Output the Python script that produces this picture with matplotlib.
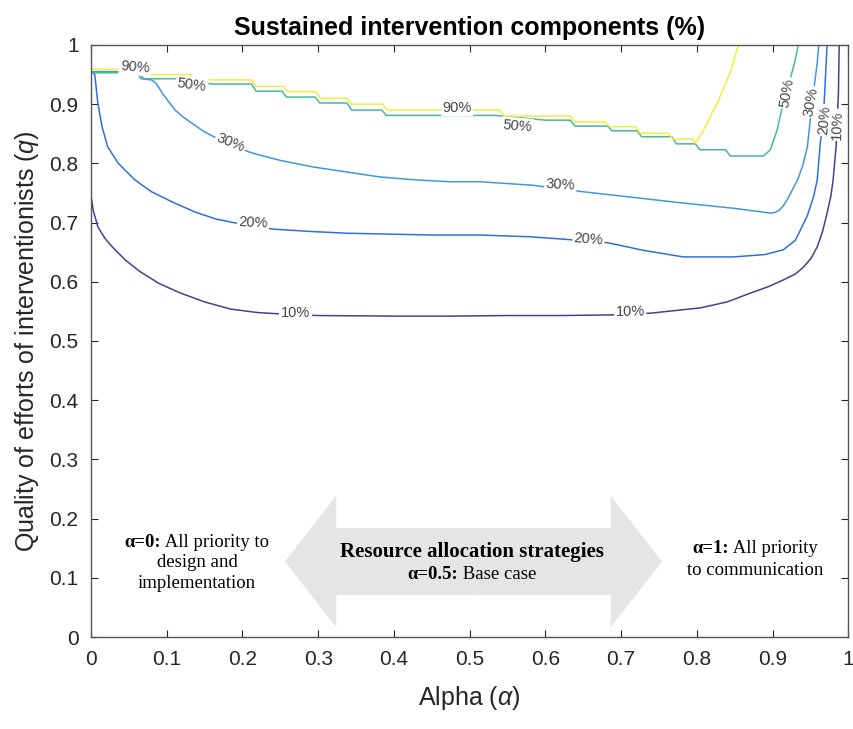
import matplotlib
matplotlib.use("Agg")
import matplotlib.pyplot as plt
from matplotlib.patches import FancyArrow
from matplotlib.transforms import offset_copy

plt.rcParams['font.family'] = ['Liberation Sans', 'DejaVu Sans']
plt.rcParams['mathtext.fontset'] = 'custom'
plt.rcParams['mathtext.rm'] = 'Liberation Sans'
plt.rcParams['mathtext.it'] = 'Liberation Sans:italic'

# contour lines: alpha (x) and q (y)
c10_a = [0.0, 0.003, 0.009, 0.018, 0.028, 0.045, 0.065, 0.09, 0.118, 0.15, 0.184, 0.22,
         0.26, 0.3, 0.4, 0.474, 0.55, 0.62, 0.686, 0.739, 0.805, 0.84, 0.871, 0.895, 0.914,
         0.93, 0.941, 0.951, 0.959, 0.966, 0.972, 0.977, 0.98, 0.984, 0.987, 0.988]
c10_q = [0.745, 0.72, 0.693, 0.674, 0.659, 0.637, 0.617, 0.597, 0.581, 0.566, 0.554, 0.548,
         0.545, 0.543, 0.542, 0.542, 0.543, 0.543, 0.544, 0.547, 0.556, 0.566, 0.581, 0.592,
         0.603, 0.613, 0.625, 0.640, 0.659, 0.685, 0.716, 0.745, 0.772, 0.83, 0.92, 1.0]

c20_a = [0.0, 0.005, 0.007, 0.009, 0.0145, 0.022, 0.036, 0.058, 0.08, 0.107, 0.137, 0.165,
         0.188, 0.24, 0.29, 0.338, 0.45, 0.514, 0.58, 0.624, 0.682, 0.73, 0.782, 0.848, 0.89,
         0.914, 0.93, 0.937, 0.946, 0.954, 0.959, 0.963, 0.967, 0.972]
c20_q = [0.955, 0.95, 0.925, 0.902, 0.862, 0.828, 0.80, 0.772, 0.752, 0.735, 0.718, 0.706,
         0.700, 0.689, 0.685, 0.682, 0.679, 0.679, 0.676, 0.672, 0.666, 0.653, 0.642, 0.642,
         0.646, 0.654, 0.670, 0.688, 0.712, 0.743, 0.772, 0.834, 0.873, 1.0]

c30_a = [0.0, 0.06, 0.066, 0.08, 0.086, 0.094, 0.102, 0.111, 0.122, 0.133, 0.15, 0.17,
         0.19, 0.214, 0.25, 0.293, 0.34, 0.382, 0.43, 0.474, 0.514, 0.584, 0.65, 0.72,
         0.782, 0.85, 0.897, 0.903, 0.909, 0.914, 0.92, 0.926, 0.933, 0.94, 0.946, 0.952,
         0.959, 0.961]
c30_q = [0.955, 0.955, 0.943, 0.941, 0.935, 0.919, 0.905, 0.89, 0.878, 0.868, 0.853, 0.84,
         0.828, 0.817, 0.805, 0.794, 0.785, 0.777, 0.772, 0.769, 0.769, 0.763, 0.752, 0.742,
         0.733, 0.724, 0.716, 0.717, 0.721, 0.728, 0.74, 0.755, 0.772, 0.797, 0.828, 0.90,
         0.970, 1.0]

c50_a = [0.0, 0.062, 0.07, 0.115, 0.16, 0.212, 0.218, 0.252, 0.258, 0.296, 0.302, 0.338,
         0.344, 0.384, 0.39, 0.534, 0.60, 0.633, 0.639, 0.682, 0.688, 0.721, 0.727, 0.767,
         0.773, 0.798, 0.804, 0.838, 0.844, 0.888, 0.897, 0.906, 0.914, 0.923, 0.93, 0.934]
c50_q = [0.953, 0.953, 0.943, 0.943, 0.934, 0.934, 0.922, 0.922, 0.912, 0.912, 0.902, 0.902,
         0.890, 0.890, 0.881, 0.881, 0.873, 0.873, 0.863, 0.863, 0.855, 0.855, 0.845, 0.845,
         0.833, 0.833, 0.823, 0.823, 0.8125, 0.8125, 0.823, 0.856, 0.902, 0.941, 0.975, 1.0]

c90_a = [0.0, 0.04, 0.075, 0.131, 0.137, 0.212, 0.218, 0.254, 0.26, 0.297, 0.303, 0.338,
         0.344, 0.385, 0.391, 0.54, 0.546, 0.633, 0.639, 0.679, 0.685, 0.719, 0.725, 0.762,
         0.768, 0.795, 0.798, 0.809, 0.827, 0.844, 0.855]
c90_q = [0.959, 0.959, 0.950, 0.950, 0.941, 0.941, 0.930, 0.930, 0.921, 0.921, 0.910, 0.910,
         0.900, 0.900, 0.890, 0.890, 0.880, 0.880, 0.870, 0.870, 0.862, 0.862, 0.851, 0.851,
         0.841, 0.841, 0.834, 0.856, 0.902, 0.953, 1.0]

levels = ['10%', '20%', '30%', '50%', '90%']
colors = ['#46408f', '#316fd8', '#4098dc', '#47b89a', '#f0ee3c']
curves = [(c10_a, c10_q), (c20_a, c20_q), (c30_a, c30_q), (c50_a, c50_q), (c90_a, c90_q)]

# inline labels: level, alpha, q, rotation
lab_level = ['90%', '50%', '90%', '50%', '30%', '30%', '20%', '20%', '10%', '10%',
             '50%', '30%', '20%', '10%']
lab_a = [0.058, 0.133, 0.483, 0.563, 0.184, 0.62, 0.214, 0.657, 0.27, 0.712,
         0.919, 0.951, 0.968, 0.986]
lab_q = [0.963, 0.932, 0.894, 0.863, 0.834, 0.764, 0.699, 0.671, 0.547, 0.549,
         0.919, 0.904, 0.873, 0.865]
lab_rot = [-5, -8, 0, -5, -22, -3, -3, -5, 0, 1, 80, 80, 85, 88]

ticks = [0, 0.1, 0.2, 0.3, 0.4, 0.5, 0.6, 0.7, 0.8, 0.9, 1]
tick_labels = ['0', '0.1', '0.2', '0.3', '0.4', '0.5', '0.6', '0.7', '0.8', '0.9', '1']

fig = plt.figure(figsize=(8.54, 7.29), dpi=100)
ax = fig.add_axes([0.1066, 0.1262, 0.8867, 0.8121])

for (xa, yq), col in zip(curves, colors):
    ax.plot(xa, yq, color=col, lw=1.1, zorder=2)

for lv, xa, yq, rot in zip(lab_level, lab_a, lab_q, lab_rot):
    ax.text(xa, yq, lv, fontsize=10.5, color='#454545', rotation=rot,
            rotation_mode='anchor', ha='center', va='center', zorder=4,
            bbox=dict(boxstyle='square,pad=0.1', fc='white', ec='none'))

# double arrow in the bottom
arrow_y = 0.1275
for d in (0.249, -0.249):
    ax.add_patch(FancyArrow(0.505, arrow_y, d, 0, width=0.113, head_width=0.223,
                            head_length=0.068, length_includes_head=True,
                            fc='#e5e5e5', ec='none', zorder=1))

serif = ['Liberation Serif', 'DejaVu Serif']
rend = fig.canvas.get_renderer()


def mixed_line(x, y, bold, rest, size):
    tb = ax.text(x, y, bold, family=serif, fontweight='bold', fontsize=size,
                 ha='left', va='center', zorder=5)
    tr = ax.text(x, y, ' ' + rest, family=serif, fontsize=size,
                 ha='left', va='center', zorder=5)
    wb = tb.get_window_extent(rend).width
    wr = tr.get_window_extent(rend).width
    tot = wb + wr
    tb.set_transform(offset_copy(ax.transData, fig=fig, x=-tot / 2, y=0, units='dots'))
    tr.set_transform(offset_copy(ax.transData, fig=fig, x=-tot / 2 + wb, y=0, units='dots'))


def plain_line(x, y, s, size, weight='normal'):
    ax.text(x, y, s, family=serif, fontsize=size, fontweight=weight,
            ha='center', va='center', zorder=5)


mixed_line(0.14, 0.160, '\u03b1=0:', 'All priority to', 13.5)
plain_line(0.14, 0.126, 'design and', 13.5)
plain_line(0.14, 0.091, 'implementation', 13.5)

plain_line(0.503, 0.143, 'Resource allocation strategies', 15, 'bold')
mixed_line(0.503, 0.106, '\u03b1=0.5:', 'Base case', 13.5)

mixed_line(0.877, 0.150, '\u03b1=1:', 'All priority', 13.5)
plain_line(0.877, 0.113, 'to communication', 13.5)

ax.set_xlim(0, 1)
ax.set_ylim(0, 1)
ax.set_xticks(ticks)
ax.set_xticklabels(tick_labels)
ax.set_yticks(ticks)
ax.set_yticklabels(tick_labels)
ax.tick_params(direction='in', top=True, right=True, length=5, width=0.8,
               labelsize=15, colors='#262626', pad=9)
for sp in ax.spines.values():
    sp.set_color('#555555')
    sp.set_linewidth(1.0)

ax.set_title('Sustained intervention components (%)', fontsize=18, fontweight='bold', pad=7)
ax.set_xlabel(r'Alpha ($\alpha$)', fontsize=18, color='#262626', labelpad=11)
ax.set_ylabel(r'Quality of efforts of interventionists ($q$)', fontsize=18,
              color='#262626', labelpad=6)

fig.savefig('out.png', dpi=100, facecolor='white')
